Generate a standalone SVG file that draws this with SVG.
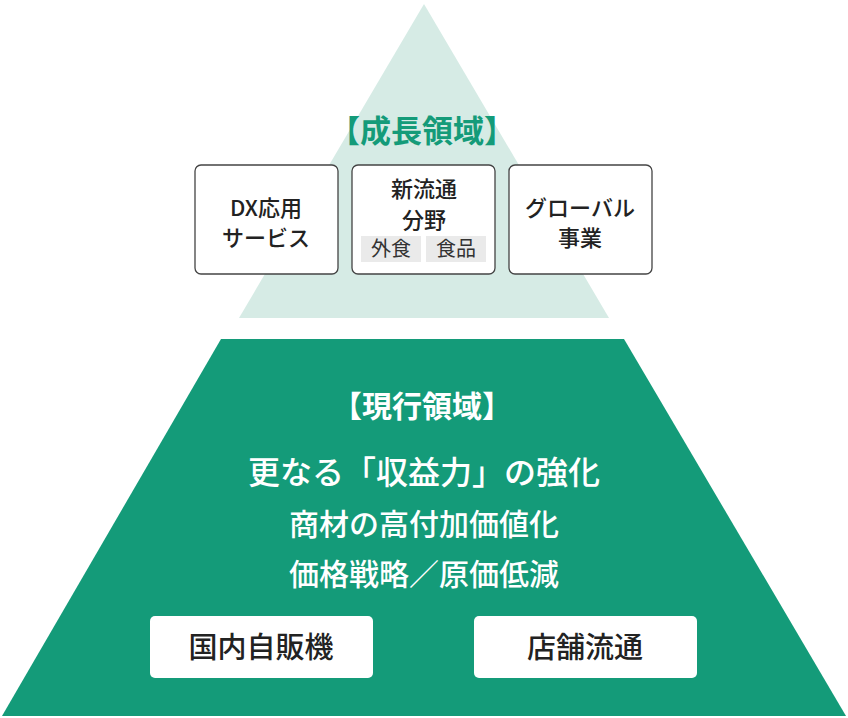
<svg xmlns="http://www.w3.org/2000/svg" width="848" height="718" viewBox="0 0 848 718">
<style>
text{font-family:"Noto Sans CJK JP","Noto Sans",sans-serif;text-anchor:middle}
.box{fill:#fff;stroke:#444;stroke-width:1.3}
.bt{font-size:22px;fill:#222;font-weight:500}
.wt{fill:#fff;font-weight:bold}
.wb{fill:#fff;font-weight:500}
.bk{font-size:29px;fill:#222;font-weight:500}
</style>
<rect width="848" height="718" fill="#fff"/>
<g id="top">
<polygon points="424,4 609,318 239,318" fill="#d6ebe5"/>
<text x="422" y="142" font-size="31" font-weight="bold" fill="#149b79">【成長領域】</text>
</g>
<g id="dx"><rect class="box" x="195" y="165" width="143" height="109" rx="6"/>
<text class="bt" x="266" y="216">DX応用</text><text class="bt" x="266" y="246">サービス</text></g>
<g id="shin"><rect class="box" x="352" y="165" width="143" height="109" rx="6"/>
<text class="bt" x="424" y="197">新流通</text><text class="bt" x="424" y="228">分野</text>
<rect x="361" y="236" width="60" height="26" fill="#eaeaea"/><rect x="426" y="236" width="60" height="26" fill="#eaeaea"/>
<text x="391" y="256" font-size="20" fill="#333">外食</text><text x="456" y="256" font-size="20" fill="#333">食品</text></g>
<g id="global"><rect class="box" x="509" y="165" width="143" height="109" rx="6"/>
<text class="bt" x="580" y="216">グローバル</text><text class="bt" x="580" y="246">事業</text></g>
<g id="bottom">
<polygon points="221,339 624,339 846,716 2,716" fill="#149b79"/>
<text class="wt" x="422" y="417" font-size="30">【現行領域】</text>
<text class="wb" x="424" y="484" font-size="32">更なる「収益力」の強化</text>
<text class="wb" x="424" y="535" font-size="30">商材の高付加価値化</text>
<text class="wb" x="424" y="585" font-size="30">価格戦略／原価低減</text>
</g>
<g id="kokunai"><rect x="150" y="616" width="223" height="62" rx="5" fill="#fff"/><text class="bk" x="261" y="658">国内自販機</text></g>
<g id="tenpo"><rect x="474" y="616" width="223" height="62" rx="5" fill="#fff"/><text class="bk" x="585" y="658">店舗流通</text></g>
<g id="connectors"/>
</svg>
